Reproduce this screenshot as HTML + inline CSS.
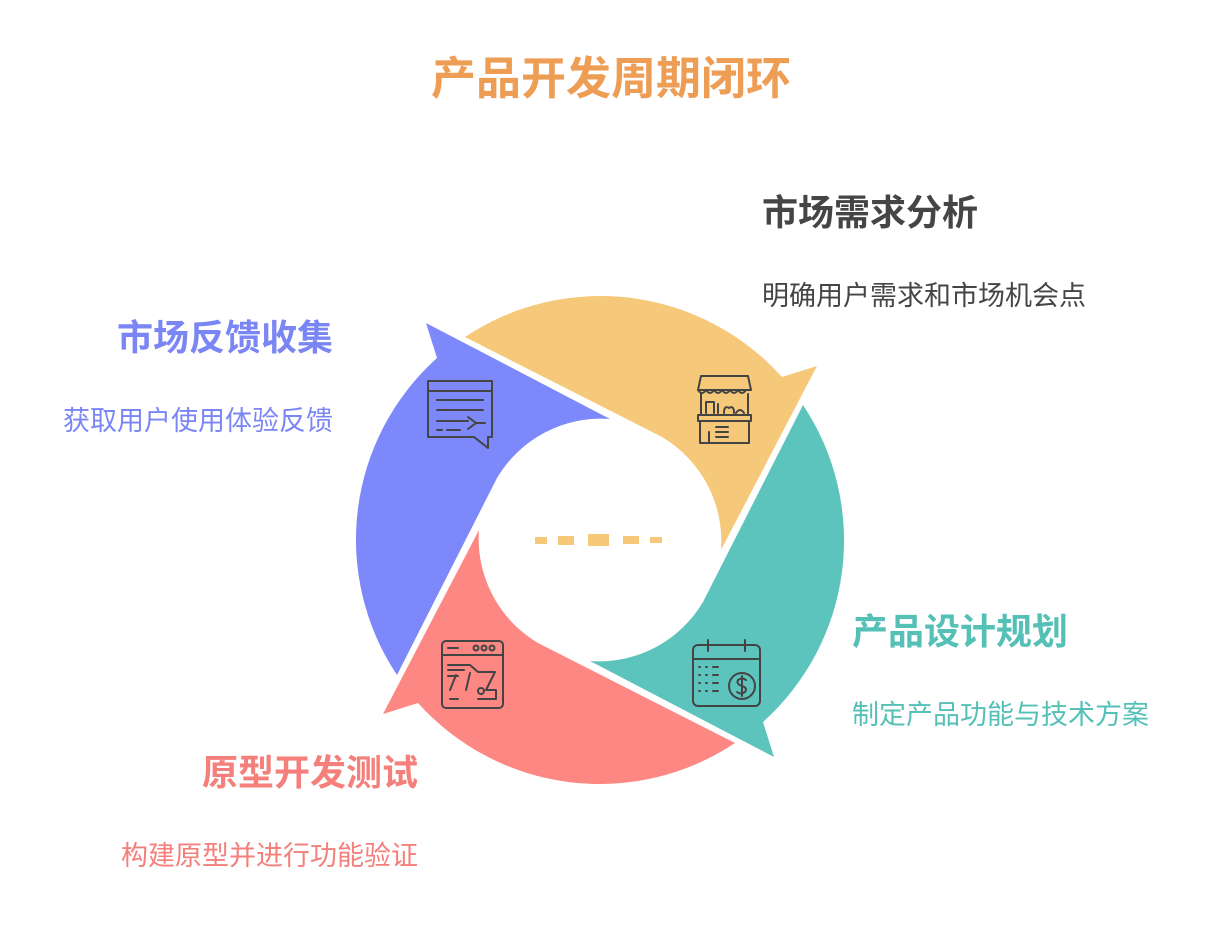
<!DOCTYPE html>
<html><head><meta charset="utf-8"><style>
body{margin:0;background:#fff;}
.wrap{position:relative;width:1212px;height:926px;overflow:hidden;font-family:"Liberation Sans","Noto Sans CJK SC",sans-serif;}
.t{position:absolute;white-space:nowrap;line-height:1;}
.h{font-size:36px;font-weight:bold;}
.d{font-size:27px;}
</style></head><body><div class="wrap">
<svg width="1212" height="926" style="position:absolute;left:0;top:0">
<defs>
<path id="seg" d="M-135,-203 A244,244 0 0 1 182,-163 L217,-174 L121,10 A121,121 0 0 0 62,-103 Z"/>
</defs>
<g transform="translate(600,540)">
<use href="#seg" fill="#F6C87A"/>
<use href="#seg" fill="#5CC4BC" transform="rotate(90)"/>
<use href="#seg" fill="#FD8883" transform="rotate(180)"/>
<use href="#seg" fill="#7D88FA" transform="rotate(270)"/>
</g>
<g fill="#F6C87A">
<rect x="535" y="537" width="12" height="7"/><rect x="558" y="536" width="16" height="9"/><rect x="588" y="534" width="21" height="12"/><rect x="623" y="536" width="16" height="8"/><rect x="650" y="537" width="12" height="6"/>
</g>
<g fill="none" stroke="#444" stroke-width="2" stroke-linecap="round" stroke-linejoin="round">
<path d="M698,390 L701,376 L748,376 L751,390 Z"/>
<path d="M698,390 q4,6 8,0 q4,6 8,0 q4,6 8,0 q4,6 8,0 q4,6 8,0 q4,6 8,0"/>
<path d="M701,394 V415 M748,394 V415"/>
<rect x="698" y="415" width="53" height="6"/>
<rect x="700" y="421" width="49" height="22"/>
<path d="M709,432 V443 M716,427 H728 M716,432 H728 M716,437 H728"/>
<path d="M706,413 V402 h8 V413 M718,413 V404 M724,413 q0,-8 5,-5 q5,-3 5,5 M736,413 q4,-6 8,0"/>
<path d="M428,381 H492 V437 L488,437 L488,448 L474,437 H428 Z"/>
<path d="M428,391 H492"/>
<path d="M437,400 H483 M437,410 H483 M437,421 H468 M468,417 L476,423 L468,429 M476,423 H485 M437,430 H442 M447,430 H460"/>
<rect x="442" y="641" width="61" height="67" rx="4"/>
<path d="M442,655 H503 M448,648 H458"/>
<circle cx="476" cy="648" r="2.5"/><circle cx="484" cy="648" r="2.5"/><circle cx="492" cy="648" r="2.5"/>
<path d="M448,665 H470 L478,672 M448,670 H464 M448,676 H458 M450,690 L456,675 M470,673 L466,690 M478,672 H495 L486,690 H496 V699 H478 M450,699 H458"/>
<circle cx="481" cy="691" r="3"/>
<rect x="693" y="645" width="67" height="61" rx="5"/>
<path d="M693,659 H760 M708,640 V651 M745,640 V651"/>
<circle cx="742" cy="686" r="13"/>
<path d="M746,680 q-4,-3 -8,0 q-2,4 4,6 q6,2 3,6 q-4,3 -8,0 M742,676 V696"/>
<path d="M699,667 h1 M706,667 h1 M713,667 h5 M699,675 h1 M706,675 h1 M713,675 h5 M699,683 h1 M706,683 h1 M713,683 h5 M699,691 h1 M706,691 h1 M713,691 h5"/>
</g>
</svg>
<div class="t" style="left:0;width:1222px;text-align:center;top:56px;font-size:45px;font-weight:bold;color:#EE9D55">产品开发周期闭环</div>
<div class="t h" style="left:762px;top:195px;color:#454545">市场需求分析</div>
<div class="t d" style="left:762px;top:283px;color:#454545">明确用户需求和市场机会点</div>
<div class="t h" style="right:879px;top:320px;color:#7B86F5">市场反馈收集</div>
<div class="t d" style="right:879px;top:408px;color:#7B86F5">获取用户使用体验反馈</div>
<div class="t h" style="left:852px;top:614px;color:#55C0B6">产品设计规划</div>
<div class="t d" style="left:852px;top:702px;color:#55C0B6">制定产品功能与技术方案</div>
<div class="t h" style="right:794px;top:755px;color:#F47F7B">原型开发测试</div>
<div class="t d" style="right:794px;top:843px;color:#F47F7B">构建原型并进行功能验证</div>
</div></body></html>
